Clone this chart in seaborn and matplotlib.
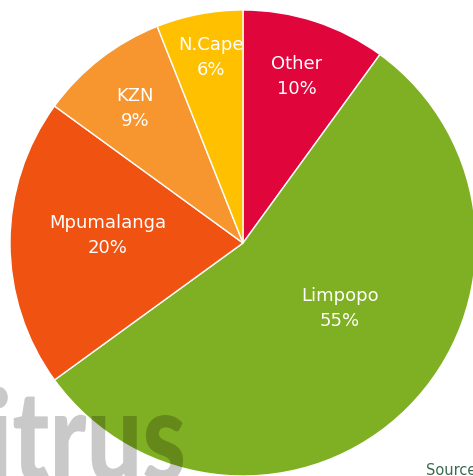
import matplotlib
matplotlib.use('Agg')
import matplotlib.pyplot as plt
import seaborn as sns
import numpy as np
from matplotlib.textpath import TextPath
from matplotlib.patches import PathPatch
from matplotlib.font_manager import FontProperties
from matplotlib.transforms import Affine2D, IdentityTransform

regions = ['Other', 'Limpopo', 'Mpumalanga', 'KZN', 'N.Cape']
shares = [10, 55, 20, 9, 6]
colours = ['#E0063C', '#7FAF22', '#F05212', '#F7962E', '#FFC000']

sns.set_theme(style='white')
plt.rcParams['font.family'] = ['DejaVu Sans']

fig = plt.figure(figsize=(4.73, 4.76), dpi=100)
ax = fig.add_axes([0, 0, 1, 1])

wedges, _ = ax.pie(shares, colors=colours, startangle=90, counterclock=False,
                   radius=1, wedgeprops=dict(edgecolor='white', linewidth=1))

# label placement (distance from centre, angle shift) per wedge
label_dist = [0.75, 0.50, 0.58, 0.74, 0.81]
angle_shift = [0, 11, -3, 1, -1]
for w, name, val, d, s in zip(wedges, regions, shares, label_dist, angle_shift):
    mid = np.deg2rad((w.theta1 + w.theta2) / 2 + s)
    ax.text(d * np.cos(mid), d * np.sin(mid), f'{name}\n{val}%', color='white',
            fontsize=13, ha='center', va='center', linespacing=1.5)

# pixel scale: 233 px per unit radius, centre at (243, 243)
ax.set_xlim(-243 / 233, 230 / 233)
ax.set_ylim(-233 / 233, 243 / 233)
ax.set_aspect('equal')
ax.axis('off')

# heavy watermark, squeezed to fit the bottom-left corner
fp = FontProperties(family='Lato', weight='black')
mark = TextPath((0, 0), 'itrus', size=100, prop=fp)
ext = mark.get_extents()
xh = TextPath((0, 0), 'u', size=100, prop=fp).get_extents().height
sx = 192 / ext.width
sy = 66 / xh
tr = Affine2D().translate(-ext.x0, 0).scale(sx, sy).translate(-9, -5)
fig.add_artist(PathPatch(mark, transform=tr + IdentityTransform(),
                         facecolor='black', edgecolor='none', alpha=0.21))

fig.text(0.9, -0.004, 'Source', fontsize=10.5, color='#3A6A4E', ha='left', va='bottom')

fig.savefig('out.png', dpi=100)
